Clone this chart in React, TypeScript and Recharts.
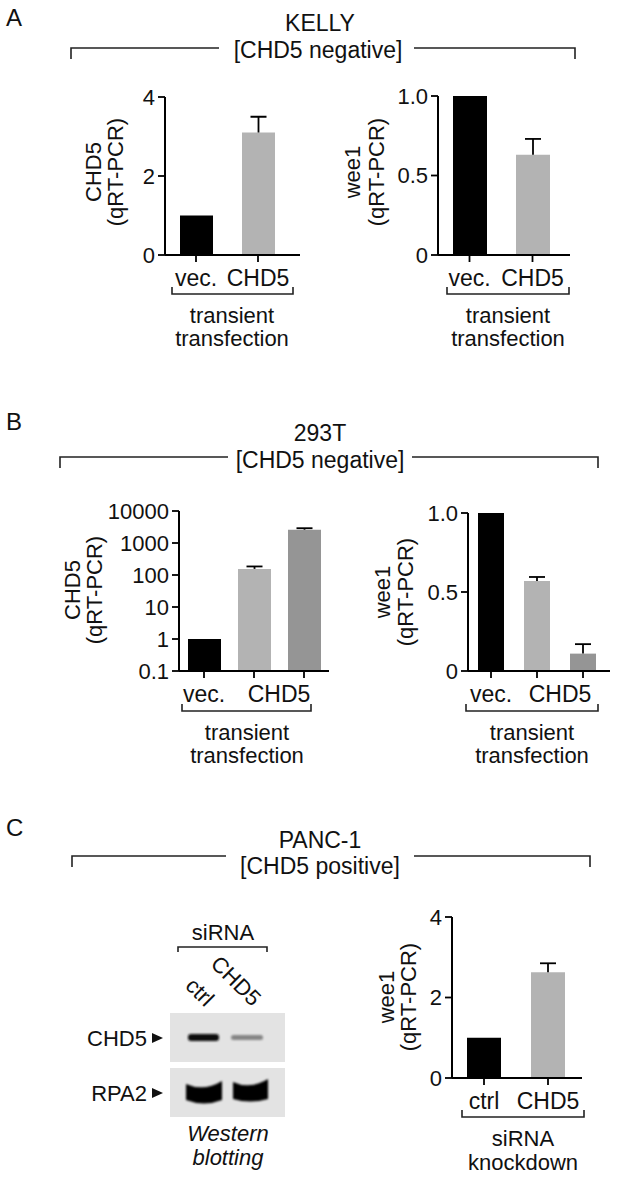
import React from "react";
import { BarChart, Bar, XAxis, YAxis, Cell } from "recharts";

const FONT = "'Liberation Sans', Arial, Helvetica, sans-serif";
const INK = "#111";
const FS = 22;
const HEAD_FS = 23;
const TICK_FS = 22;

// A: KELLY, transient transfection
const kellyCategories = ["vec.", "CHD5"];
const kellyChd5Values = [1, 3.1];
const kellyChd5Errors = [0, 0.4];
const kellyWee1Values = [1, 0.63];
const kellyWee1Errors = [0, 0.1];

// B: 293T, transient transfection (two CHD5 bars)
const hekCategories = ["vec.", "CHD5 a", "CHD5 b"];
const hekTickLabels = ["vec.", "CHD5", ""];
const hekChd5Values = [1, 155, 2600];
const hekChd5Errors = [0, 30, 300];
const hekWee1Values = [1, 0.57, 0.11];
const hekWee1Errors = [0, 0.025, 0.06];

// C: PANC-1, siRNA knockdown
const pancCategories = ["ctrl", "CHD5"];
const pancWee1Values = [1, 2.63];
const pancWee1Errors = [0, 0.22];

const ticks04 = [0, 2, 4];
const ticks01 = [0, 0.5, 1];
const ticksLog = [0.1, 1, 10, 100, 1000, 10000];

const twoColors = ["#000000", "#b3b3b3"];
const threeColors = ["#000000", "#b3b3b3", "#959595"];

const rows = (cats: string[], vals: number[], errs: number[]) =>
  cats.map((c, i) => ({ cat: c, value: vals[i], err: errs[i] }));

const Whisker = (props: any) => {
  const { x, y, width, height } = props;
  if (!height || height <= 0.5) return null;
  const cx = x + width / 2;
  return (
    <g stroke="#000" strokeWidth={1.8} fill="none">
      <line x1={cx} y1={y + height} x2={cx} y2={y} />
      <line x1={cx - 8} y1={y} x2={cx + 8} y2={y} />
    </g>
  );
};

const CatTick = (props: any) => {
  const { x, y, payload, labels, shifts } = props;
  const i = payload.index;
  const label = labels ? labels[i] : payload.value;
  if (!label) return null;
  return (
    <text x={x + (shifts ? shifts[i] : 0)} y={y} dy={22} textAnchor="middle"
      fontSize={HEAD_FS} fill={INK} fontFamily={FONT}>
      {label}
    </text>
  );
};

type PanelProps = {
  axisX: number; top: number; bottom: number; right: number;
  padR: number; barSize: number; data: any[]; colors: string[];
  domain: number[]; ticks: number[]; fmt: (v: number) => string;
  log?: boolean; labels?: string[]; shifts?: number[];
};

function Panel(p: PanelProps) {
  const ml = 80, mt = 14, mr = 12, mb = 40;
  const w = ml + (p.right - p.axisX) + mr;
  const h = mt + (p.bottom - p.top) + mb;
  return (
    <div style={{ position: "absolute", left: p.axisX - ml, top: p.top - mt }}>
      <BarChart width={w} height={h} data={p.data}
        margin={{ top: mt, right: mr, bottom: mb - 34, left: ml - 70 }}>
        <XAxis dataKey="cat" interval={0} height={34} padding={{ left: 0, right: p.padR }}
          axisLine={{ stroke: "#000", strokeWidth: 2 }}
          tickLine={{ stroke: "#000", strokeWidth: 1.8 }} tickSize={7}
          tick={<CatTick labels={p.labels} shifts={p.shifts} />} />
        <YAxis width={70} type="number" scale={p.log ? "log" : "linear"}
          domain={p.domain} ticks={p.ticks} interval={0} allowDataOverflow
          tickFormatter={p.fmt} tickSize={7} tickMargin={3}
          axisLine={{ stroke: "#000", strokeWidth: 2 }}
          tickLine={{ stroke: "#000", strokeWidth: 1.8 }}
          tick={{ fill: INK, fontSize: TICK_FS, fontFamily: FONT }} />
        <Bar dataKey="value" stackId="s" barSize={p.barSize} isAnimationActive={false}>
          {p.data.map((d, i) => <Cell key={d.cat} fill={p.colors[i]} />)}
        </Bar>
        <Bar dataKey="err" stackId="s" barSize={p.barSize} isAnimationActive={false}
          fill="none" shape={Whisker} />
      </BarChart>
    </div>
  );
}

const fmtInt = (v: number) => String(v);
const fmtFrac = (v: number) => (v === 0 ? "0" : v.toFixed(1));

const Txt = ({ x, y, children, anchor = "middle", italic = false, rotate = 0, size = FS }: any) => (
  <text x={x} y={y} textAnchor={anchor} dominantBaseline="central" fontSize={size}
    fill={INK} fontFamily={FONT} fontStyle={italic ? "italic" : "normal"}
    transform={rotate ? `rotate(${rotate} ${x} ${y})` : undefined}>
    {children}
  </text>
);

const HeadBracket = ({ x1, x2, x3, x4, y }: any) => (
  <path d={`M${x1},${y + 11} V${y} H${x2} M${x3},${y} H${x4} V${y + 11}`}
    stroke="#222" strokeWidth={1.6} fill="none" />
);

const UnderBracket = ({ x1, x2, y }: any) => (
  <path d={`M${x1},${y - 7} V${y} H${x2} V${y - 7}`} stroke="#222" strokeWidth={1.6} fill="none" />
);

const YLabel = ({ x1, x2, y, line1 }: any) => (
  <g>
    <Txt x={x1} y={y} rotate={-90}>{line1}</Txt>
    <Txt x={x2} y={y} rotate={-90}>(qRT-PCR)</Txt>
  </g>
);

export default function App() {
  return (
    <div style={{ position: "absolute", left: 0, top: 0, width: 624, height: 1177, background: "#fff", fontFamily: FONT }}>
      <Panel axisX={165} top={97} bottom={255} right={300} padR={11} barSize={33}
        data={rows(kellyCategories, kellyChd5Values, kellyChd5Errors)} colors={twoColors}
        domain={[0, 4]} ticks={ticks04} fmt={fmtInt} />
      <Panel axisX={438} top={96} bottom={255} right={570} padR={6} barSize={34}
        data={rows(kellyCategories, kellyWee1Values, kellyWee1Errors)} colors={twoColors}
        domain={[0, 1]} ticks={ticks01} fmt={fmtFrac} />
      <Panel axisX={179} top={511} bottom={671} right={329} padR={0} barSize={33} log
        data={rows(hekCategories, hekChd5Values, hekChd5Errors)} colors={threeColors}
        domain={[0.1, 10000]} ticks={ticksLog} fmt={fmtInt}
        labels={hekTickLabels} shifts={[0, 25, 0]} />
      <Panel axisX={468} top={513} bottom={671} right={610} padR={4} barSize={26}
        data={rows(hekCategories, hekWee1Values, hekWee1Errors)} colors={threeColors}
        domain={[0, 1]} ticks={ticks01} fmt={fmtFrac}
        labels={hekTickLabels} shifts={[0, 23, 0]} />
      <Panel axisX={452} top={917} bottom={1078} right={582} padR={2} barSize={34}
        data={rows(pancCategories, pancWee1Values, pancWee1Errors)} colors={twoColors}
        domain={[0, 4]} ticks={ticks04} fmt={fmtInt} />

      <svg width={624} height={1177} style={{ position: "absolute", left: 0, top: 0, pointerEvents: "none" }}>
        <defs>
          <filter id="blot" x="-20%" y="-50%" width="140%" height="200%">
            <feGaussianBlur stdDeviation="1.3" />
          </filter>
        </defs>

        {/* A */}
        <Txt x={6} y={17} anchor="start" size={24}>A</Txt>
        <Txt x={320} y={23} size={HEAD_FS}>KELLY</Txt>
        <Txt x={318} y={50} size={HEAD_FS}>[CHD5 negative]</Txt>
        <HeadBracket x1={71} x2={219} x3={414} x4={575} y={48} />
        <YLabel x1={93} x2={115} y={172} line1="CHD5" />
        <YLabel x1={352} x2={376} y={172} line1="wee1" />
        <UnderBracket x1={172} x2={293} y={294} />
        <Txt x={232} y={315}>transient</Txt>
        <Txt x={232} y={338}>transfection</Txt>
        <UnderBracket x1={447} x2={569} y={294} />
        <Txt x={508} y={315}>transient</Txt>
        <Txt x={508} y={338}>transfection</Txt>

        {/* B */}
        <Txt x={6} y={421} anchor="start" size={24}>B</Txt>
        <Txt x={320} y={433} size={HEAD_FS}>293T</Txt>
        <Txt x={320} y={460} size={HEAD_FS}>[CHD5 negative]</Txt>
        <HeadBracket x1={60} x2={228} x3={412} x4={598} y={457} />
        <YLabel x1={72} x2={94} y={590} line1="CHD5" />
        <YLabel x1={382} x2={405} y={592} line1="wee1" />
        <UnderBracket x1={182} x2={311} y={711} />
        <Txt x={247} y={732}>transient</Txt>
        <Txt x={247} y={755}>transfection</Txt>
        <UnderBracket x1={466} x2={598} y={711} />
        <Txt x={532} y={732}>transient</Txt>
        <Txt x={532} y={755}>transfection</Txt>

        {/* C */}
        <Txt x={6} y={827} anchor="start" size={24}>C</Txt>
        <Txt x={320} y={840} size={HEAD_FS}>PANC-1</Txt>
        <Txt x={320} y={866} size={HEAD_FS}>[CHD5 positive]</Txt>
        <HeadBracket x1={72} x2={226} x3={414} x4={590} y={856} />
        <YLabel x1={386} x2={408} y={997} line1="wee1" />
        <UnderBracket x1={462} x2={584} y={1117} />
        <Txt x={523} y={1138}>siRNA</Txt>
        <Txt x={523} y={1162}>knockdown</Txt>

        {/* western blot */}
        <Txt x={223} y={932}>siRNA</Txt>
        <path d="M178,952 V947 H267 V952" stroke="#222" strokeWidth={1.6} fill="none" />
        <Txt x={200} y={992} rotate={45}>ctrl</Txt>
        <Txt x={236} y={981} rotate={45}>CHD5</Txt>
        <rect x={170} y={1013} width={115} height={49} fill="#e3e3e3" />
        <rect x={170} y={1068} width={115} height={49} fill="#e3e3e3" />
        <g filter="url(#blot)">
          <rect x={188} y={1034} width={31} height={7} rx={3} fill="#0d0d0d" />
          <rect x={231} y={1035} width={32} height={5} rx={2.5} fill="#858585" />
          <path d="M186,1084 Q204,1092 222,1081 L222,1100 Q204,1107 186,1100 Z" fill="#050505" />
          <path d="M233,1082 Q250,1090 268,1079 L268,1099 Q250,1104 233,1099 Z" fill="#050505" />
        </g>
        <Txt x={147} y={1038} anchor="end">CHD5</Txt>
        <path d="M152,1033 L163,1038 L152,1043 Z" fill={INK} />
        <Txt x={147} y={1093} anchor="end">RPA2</Txt>
        <path d="M152,1088 L163,1093 L152,1098 Z" fill={INK} />
        <Txt x={228} y={1133} italic>Western</Txt>
        <Txt x={228} y={1157} italic>blotting</Txt>
      </svg>
    </div>
  );
}
